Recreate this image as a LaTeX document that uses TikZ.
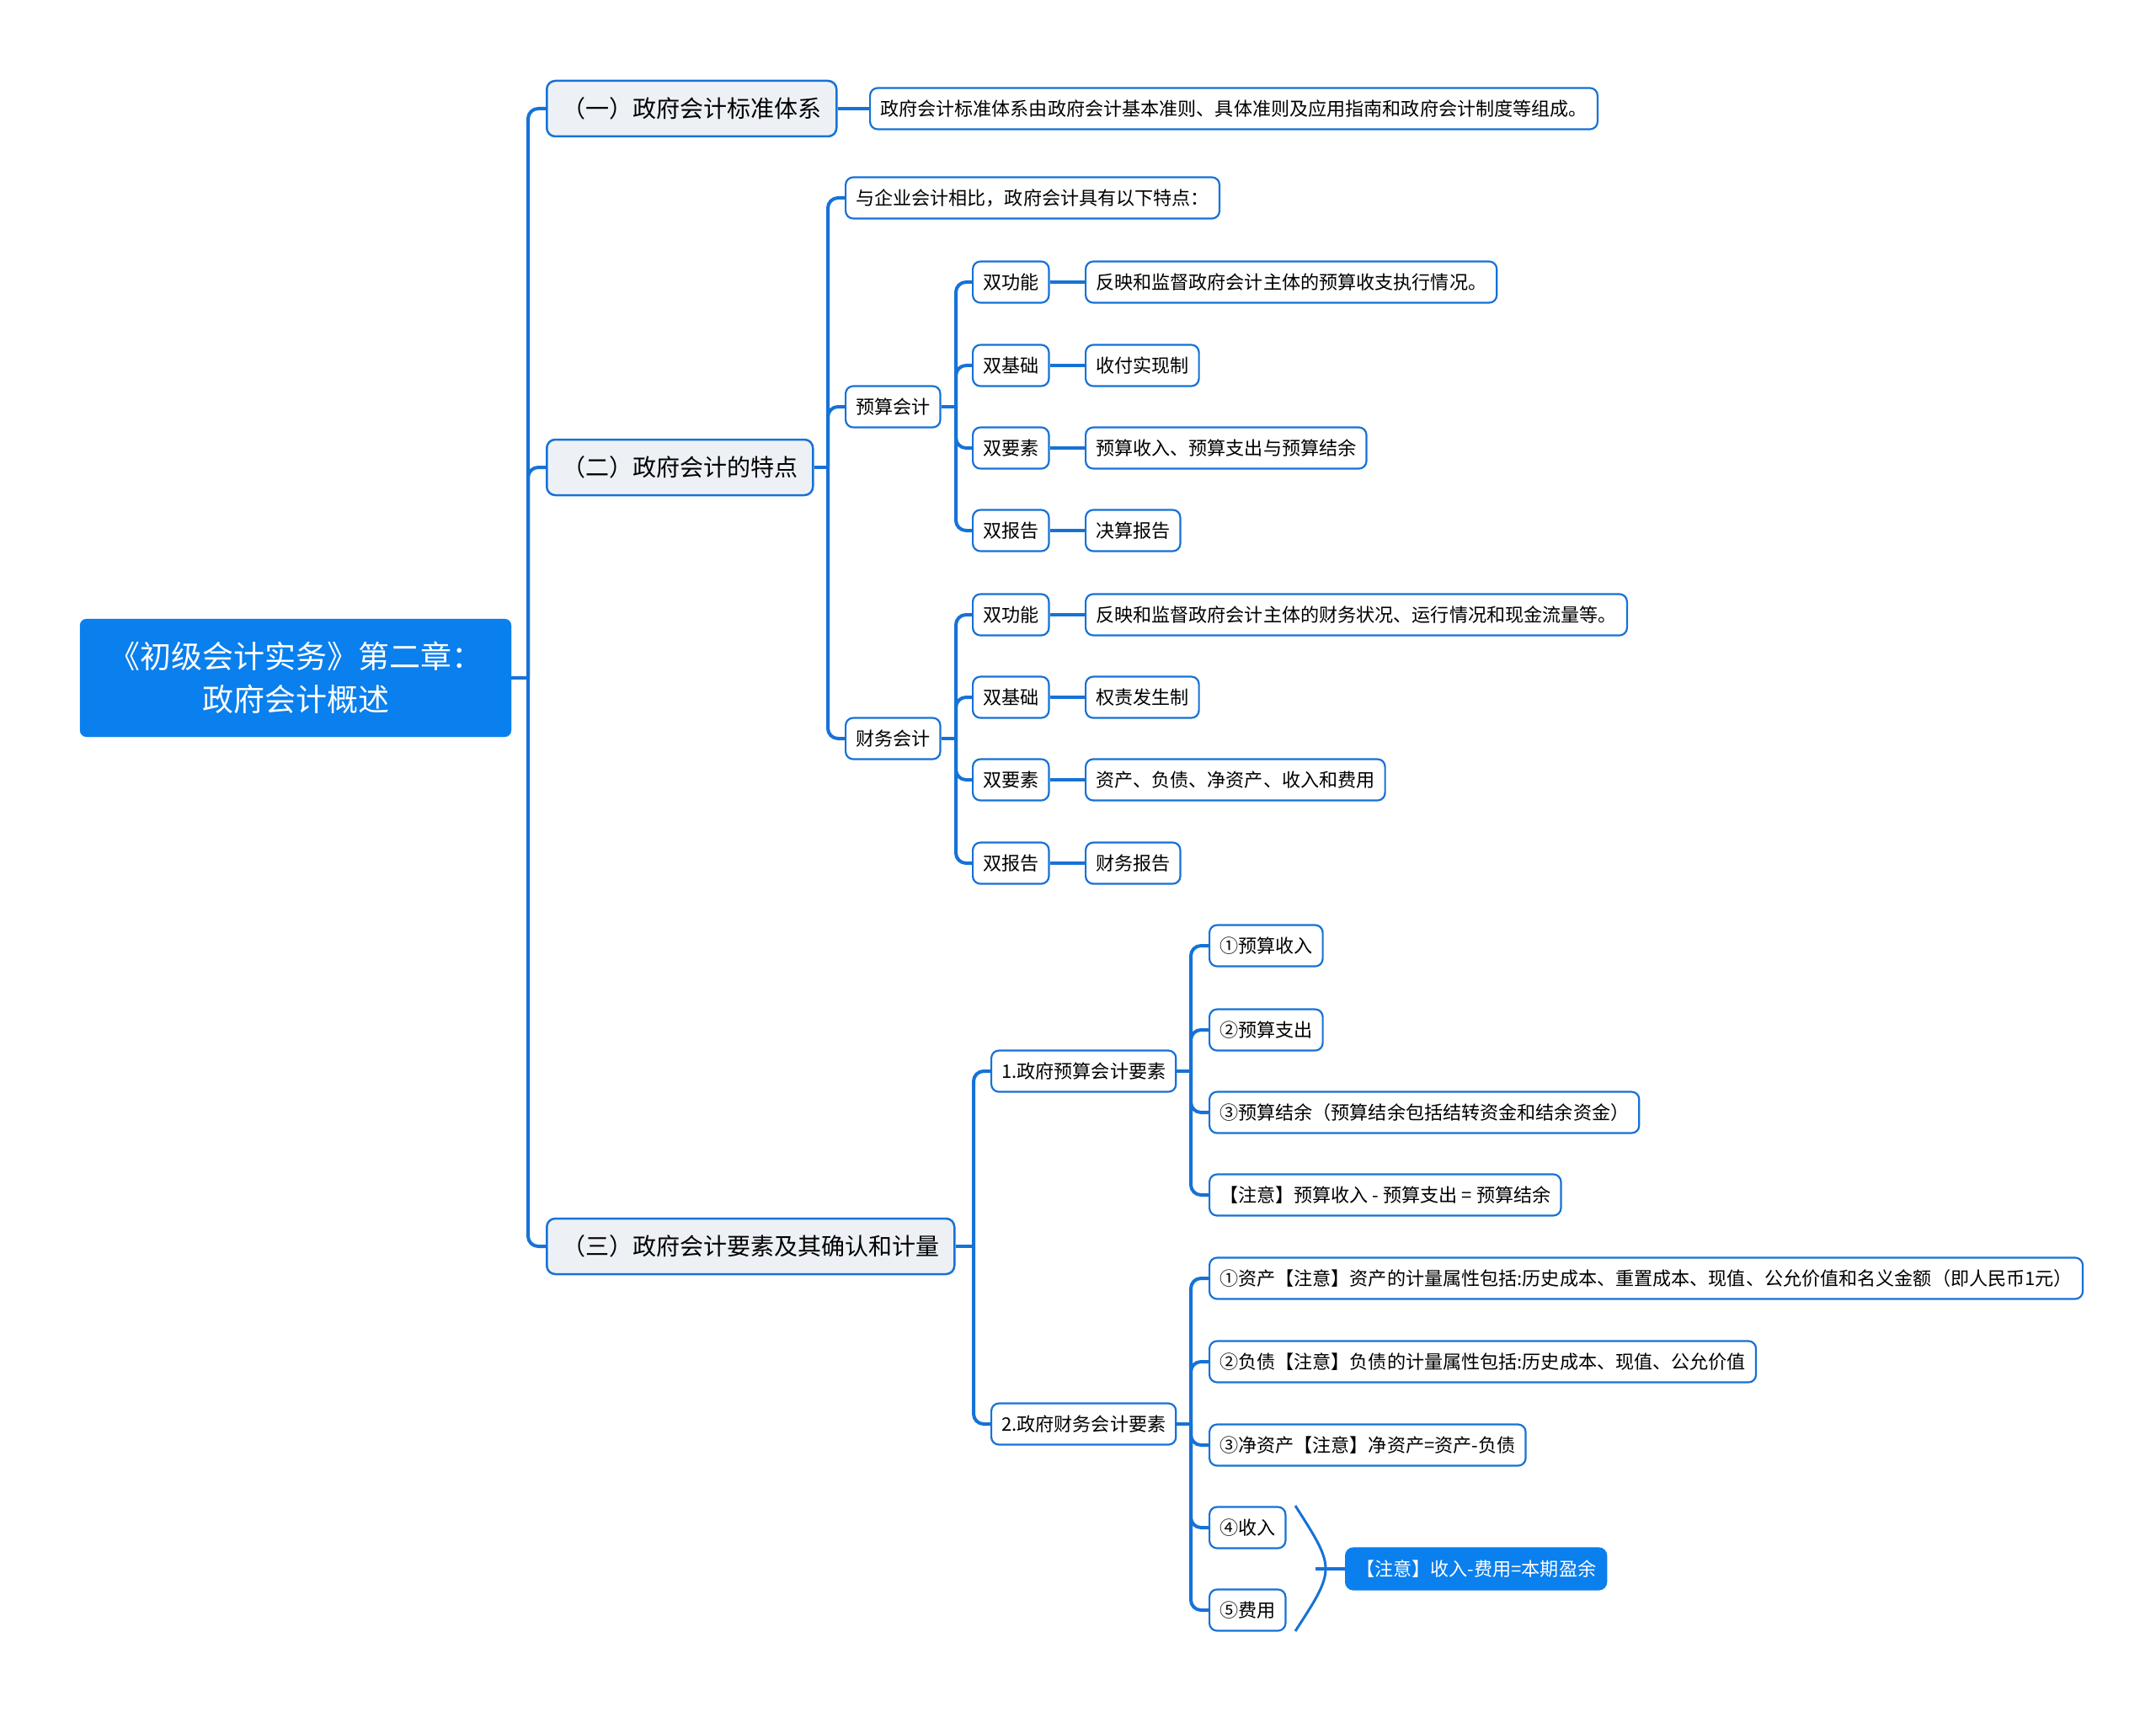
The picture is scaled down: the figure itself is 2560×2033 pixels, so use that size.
\documentclass[tikz,border=0pt]{standalone}
\usepackage{fontspec}
\setmainfont{Noto Sans CJK SC}
\usepackage{tikz}
\definecolor{lineblue}{RGB}{22,114,214}
\definecolor{rootblue}{RGB}{10,127,238}
\definecolor{topicgray}{RGB}{237,241,246}

\begin{document}
\begin{tikzpicture}[x=1pt,y=-1pt,
  conn/.style={lineblue,line width=4pt,rounded corners=12pt},
  rootbox/.style={draw=rootblue,fill=rootblue,text=white,rounded corners=8pt,minimum width=512pt,minimum height=140pt,align=center,font=\fontsize{37}{51}\selectfont},
  topic/.style={draw=lineblue,line width=2.5pt,fill=topicgray,rounded corners=10pt,anchor=west,minimum height=66pt,inner xsep=18pt,font=\fontsize{28}{32}\selectfont},
  sub/.style={draw=lineblue,line width=2.2pt,fill=white,rounded corners=9pt,anchor=west,minimum height=49pt,inner xsep=12pt,font=\fontsize{22.1}{26}\selectfont},
  note/.style={sub,draw=rootblue,fill=rootblue,text=white}]
\useasboundingbox (0,0) rectangle (2560,2033);

\node[rootbox] (root) at (351,805) {《初级会计实务》第二章：\\政府会计概述};

\node[topic] (t1) at (648,129) {（一）政府会计标准体系};
\node[topic] (t2) at (648,555) {（二）政府会计的特点};
\node[topic] (t3) at (648,1480) {（三）政府会计要素及其确认和计量};

\node[sub] (t1a) at (1032,129) {政府会计标准体系由政府会计基本准则、具体准则及应用指南和政府会计制度等组成。};

% (二)
\node[sub] (t2a) at (1003,235) {与企业会计相比，政府会计具有以下特点：};
\node[sub] (ys) at (1003,483) {预算会计};
\node[sub] (cw) at (1003,877) {财务会计};

\node[sub] (ys1) at (1154,335) {双功能};
\node[sub] (ys2) at (1154,434) {双基础};
\node[sub] (ys3) at (1154,532) {双要素};
\node[sub] (ys4) at (1154,630) {双报告};
\node[sub] (ys1a) at (1288,335) {反映和监督政府会计主体的预算收支执行情况。};
\node[sub] (ys2a) at (1288,434) {收付实现制};
\node[sub] (ys3a) at (1288,532) {预算收入、预算支出与预算结余};
\node[sub] (ys4a) at (1288,630) {决算报告};

\node[sub] (cw1) at (1154,730) {双功能};
\node[sub] (cw2) at (1154,828) {双基础};
\node[sub] (cw3) at (1154,926) {双要素};
\node[sub] (cw4) at (1154,1025) {双报告};
\node[sub] (cw1a) at (1288,730) {反映和监督政府会计主体的财务状况、运行情况和现金流量等。};
\node[sub] (cw2a) at (1288,828) {权责发生制};
\node[sub] (cw3a) at (1288,926) {资产、负债、净资产、收入和费用};
\node[sub] (cw4a) at (1288,1025) {财务报告};

% (三)
\node[sub] (ysys) at (1176,1272) {1.政府预算会计要素};
\node[sub] (cwys) at (1176,1691) {2.政府财务会计要素};

\node[sub] (d1) at (1435,1123) {①预算收入};
\node[sub] (d2) at (1435,1223) {②预算支出};
\node[sub] (d3) at (1435,1321) {③预算结余（预算结余包括结转资金和结余资金）};
\node[sub] (d4) at (1435,1419) {【注意】预算收入 - 预算支出 = 预算结余};

\node[sub] (e1) at (1435,1518) {①资产【注意】资产的计量属性包括:历史成本、重置成本、现值、公允价值和名义金额（即人民币1元）};
\node[sub] (e2) at (1435,1617) {②负债【注意】负债的计量属性包括:历史成本、现值、公允价值};
\node[sub] (e3) at (1435,1716) {③净资产【注意】净资产=资产-负债};
\node[sub] (e4) at (1435,1814) {④收入};
\node[sub] (e5) at (1435,1912) {⑤费用};
\node[note] (sum) at (1597,1863) {【注意】收入-费用=本期盈余};

% junctions
\coordinate (j0) at (627,805);
\coordinate (j2) at (983,555);
\coordinate (jys) at (1135,483);
\coordinate (jcw) at (1135,877);
\coordinate (j3) at (1156,1480);
\coordinate (jysys) at (1414,1272);
\coordinate (jcwys) at (1414,1691);

\draw[conn] (root.east) -- (j0);
\draw[conn] (j0) |- (t1.west);
\draw[conn] (j0) |- (t2.west);
\draw[conn] (j0) |- (t3.west);
\draw[conn] (t1.east) -- (t1a.west);

\draw[conn] (t2.east) -- (j2);
\draw[conn] (j2) |- (t2a.west);
\draw[conn] (j2) |- (ys.west);
\draw[conn] (j2) |- (cw.west);

\draw[conn] (ys.east) -- (jys);
\draw[conn] (jys) |- (ys1.west);
\draw[conn] (jys) |- (ys2.west);
\draw[conn] (jys) |- (ys3.west);
\draw[conn] (jys) |- (ys4.west);
\draw[conn] (ys1.east) -- (ys1a.west);
\draw[conn] (ys2.east) -- (ys2a.west);
\draw[conn] (ys3.east) -- (ys3a.west);
\draw[conn] (ys4.east) -- (ys4a.west);

\draw[conn] (cw.east) -- (jcw);
\draw[conn] (jcw) |- (cw1.west);
\draw[conn] (jcw) |- (cw2.west);
\draw[conn] (jcw) |- (cw3.west);
\draw[conn] (jcw) |- (cw4.west);
\draw[conn] (cw1.east) -- (cw1a.west);
\draw[conn] (cw2.east) -- (cw2a.west);
\draw[conn] (cw3.east) -- (cw3a.west);
\draw[conn] (cw4.east) -- (cw4a.west);

\draw[conn] (t3.east) -- (j3);
\draw[conn] (j3) |- (ysys.west);
\draw[conn] (j3) |- (cwys.west);

\draw[conn] (ysys.east) -- (jysys);
\draw[conn] (jysys) |- (d1.west);
\draw[conn] (jysys) |- (d2.west);
\draw[conn] (jysys) |- (d3.west);
\draw[conn] (jysys) |- (d4.west);

\draw[conn] (cwys.east) -- (jcwys);
\draw[conn] (jcwys) |- (e1.west);
\draw[conn] (jcwys) |- (e2.west);
\draw[conn] (jcwys) |- (e3.west);
\draw[conn] (jcwys) |- (e4.west);
\draw[conn] (jcwys) |- (e5.west);

% summary bracket
\coordinate (brtop) at (1538,1788);
\coordinate (brbot) at (1538,1937);
\coordinate (brmid) at (1562,1863);
\draw[lineblue,line width=3pt] (brtop) .. controls (1586,1863) .. (brbot);
\draw[conn] (brmid) -- (sum.west);
\end{tikzpicture}
\end{document}
